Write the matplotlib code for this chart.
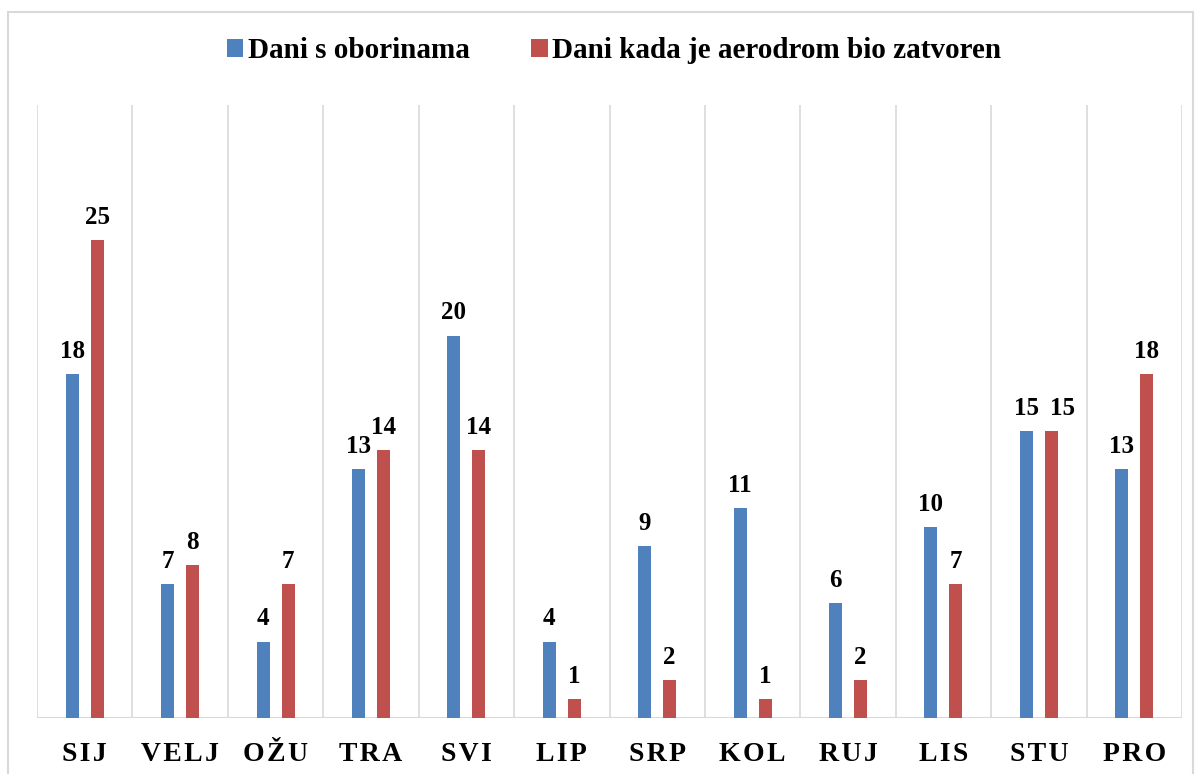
import matplotlib
matplotlib.use("Agg")
from matplotlib import pyplot as plt
from matplotlib.patches import Rectangle
import numpy as np

months = ["SIJ", "VELJ", "OŽU", "TRA", "SVI", "LIP", "SRP", "KOL", "RUJ", "LIS", "STU", "PRO"]
oborine = [18, 7, 4, 13, 20, 4, 9, 11, 6, 10, 15, 13]
zatvoren = [25, 8, 7, 14, 14, 1, 2, 1, 2, 7, 15, 18]

plt.rcParams["font.family"] = ["Liberation Serif", "DejaVu Serif"]
plt.rcParams["font.weight"] = "bold"

blue = "#4F81BD"
red = "#C0504D"
grid_col = "#D9D9D9"

fig = plt.figure(figsize=(11.98, 7.74), dpi=100)
# outer chart border (bottom edge falls outside the image)
fig.patches.append(Rectangle((7.5 / 1198, -0.05), 1185 / 1198, 1.05 - 12 / 774, transform=fig.transFigure,
                             fill=False, edgecolor=grid_col, linewidth=1.5))
ax = fig.add_axes([37 / 1198, 56 / 774, 1145 / 1198, 613 / 774])

x = np.arange(len(months))
w = 0.137
off = 0.131
b1 = ax.bar(x - off, oborine, w, color=blue, label="Dani s oborinama", zorder=3)
b2 = ax.bar(x + off, zatvoren, w, color=red, label="Dani kada je aerodrom bio zatvoren", zorder=3)

for i in range(len(months)):
    # labels of equal-height pairs get pushed apart like in Excel
    clash = abs(oborine[i] - zatvoren[i]) < 1 and oborine[i] >= 10
    for r, dx in ((b1[i], 0), (b2[i], 8 if clash else 0)):
        ax.annotate(f"{int(r.get_height())}", (r.get_x() + r.get_width() / 2, r.get_height()),
                    xytext=(dx, 8), textcoords="offset points", ha="center", va="bottom",
                    fontsize=18, fontweight="bold")

ax.set_xlim(-0.5, len(months) - 0.5)
ax.set_ylim(0, 32.06)
for b in np.arange(-0.5, len(months), 1):
    ax.axvline(b, color=grid_col, linewidth=1.2, zorder=1)
ax.axhline(0, color=grid_col, linewidth=1.5, zorder=2)

ax.set_xticks(x)
ax.set_xticklabels(["\u200a".join(m) for m in months], fontsize=20, fontweight="bold")
ax.tick_params(axis="x", length=0, pad=17)
ax.set_yticks([])
for s in ax.spines.values():
    s.set_visible(False)

fig.legend(loc="center", bbox_to_anchor=(614.5 / 1198, 1 - 51 / 774), ncol=2, frameon=False,
           prop={"size": 21, "weight": "bold"}, handlelength=0.55, handleheight=0.55,
           handletextpad=0.17, columnspacing=2.1)

plt.savefig("out.png", dpi=100)
